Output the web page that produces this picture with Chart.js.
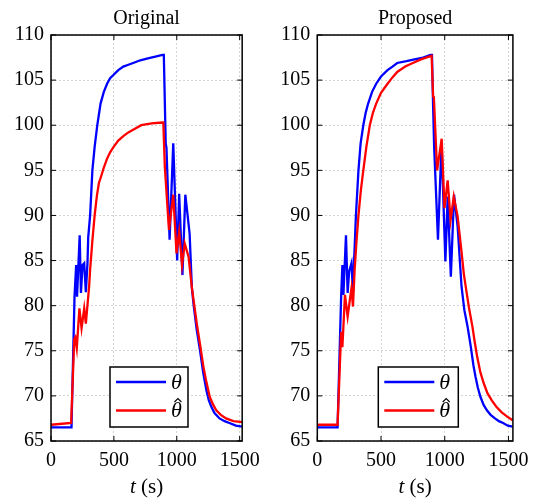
<!DOCTYPE html>
<html>
<head>
<meta charset="utf-8">
<script src="https://cdn.jsdelivr.net/npm/chart.js@4.4.0/dist/chart.umd.min.js"></script>
<style>
  body { margin: 0; background: #fff; }
  #wrap { position: relative; width: 537px; height: 500px; }
  .pane { position: absolute; top: 0; }
</style>
</head>
<body>
<div id="wrap">
  <div class="pane" style="left:0"><canvas id="left" width="268" height="500"></canvas></div>
  <div class="pane" style="left:268px"><canvas id="right" width="269" height="500"></canvas></div>
</div>
<script>
// Axes ticks
var xTicks = [0, 500, 1000, 1500];
var yTicks = [65, 70, 75, 80, 85, 90, 95, 100, 105, 110];

// Original: theta (measured)
var origThetaT = [0,163,187,200,207,228,238,251,264,277,290,296,311,329,347,368,394,420,446,470,
  498,535,575,615,653,710,770,830,886,897,912,918,943,972,1003,1019,1045,1068,1102,1120,
  1133,1159,1184,1211,1236,1255,1275,1300,1340,1380,1418,1470,1522];
var origTheta = [66.5,66.5,81,84.5,81,87.8,81.4,84.5,84.7,81.5,84.7,87.6,90,95,97.6,100,102.4,103.7,104.6,105.2,
  105.6,106.1,106.5,106.7,106.9,107.2,107.4,107.6,107.8,107.8,98,97.5,87.3,98,85,92.4,83.4,92.3,88,82,
  80.2,77.3,75.1,72.5,70.6,69.5,68.8,68.1,67.5,67.2,67.0,66.7,66.6];

// Original: theta hat (estimate)
var origHatT = [0,160,185,193,205,226,243,264,277,303,311,329,347,365,381,400,420,446,470,498,
  535,575,615,653,718,800,886,893,905,938,972,998,1019,1042,1063,1094,1120,1159,1184,1211,
  1236,1262,1290,1314,1350,1392,1450,1522];
var origHat = [66.8,67.0,76.3,76.5,75.3,79.7,77.5,79.7,78.0,82.1,84,87.2,90,92.2,93.6,94.4,95.3,96.3,97.0,97.6,
  98.3,98.8,99.2,99.5,100,100.2,100.3,100.3,95.4,88.4,92.3,85.8,88.2,84.5,86.9,85.4,82,78,75.8,73.3,
  71.5,69.9,69.0,68.4,67.9,67.5,67.2,67.1];

// Proposed: theta (measured)
var propThetaT = [0,159,187,197,205,225,238,250,268,280,288,303,323,340,361,380,399,430,462,500,
  551,590,627,700,763,830,889,900,909,917,947,975,1005,1023,1048,1073,1101,1132,1154,1179,
  1205,1225,1242,1260,1280,1305,1331,1360,1394,1425,1458,1495,1533];
var propTheta = [66.5,66.5,81,84.5,81.2,87.8,81.4,83.8,84.7,81.5,84.7,90,95,98,100,101.4,102.4,103.7,104.6,105.4,
  106.1,106.5,106.9,107.1,107.3,107.5,107.8,107.8,102,97.6,87.3,98,84.9,92.1,83.2,92.3,88.8,82.1,79.5,77.7,
  75.4,73.4,72.1,70.9,69.9,69.0,68.4,67.9,67.5,67.2,67.0,66.7,66.6];

// Proposed: theta hat (estimate)
var propHatT = [0,159,187,197,217,238,255,268,280,293,307,323,342,361,385,412,437,462,500,551,
  590,627,690,750,813,877,897,909,915,940,976,998,1023,1046,1071,1101,1130,1150,1168,1190,
  1217,1235,1255,1280,1306,1335,1369,1405,1445,1490,1533];
var propHat = [66.8,66.8,77.1,75.4,81.2,78.8,80.6,81.9,79.9,84,87,90,92.8,95,97.6,100,101.4,102.4,103.6,104.6,
  105.3,105.9,106.5,106.9,107.3,107.6,107.7,103.2,103.0,95.0,98.5,90.8,93.9,89.5,92.1,89.9,86.2,83.5,81.8,79.8,
  77.7,76.0,74.3,72.6,71.4,70.3,69.5,68.8,68.2,67.7,67.3];

var serif = "'Liberation Serif', 'Times New Roman', serif";

function toPoints(ts, vs) {
  return ts.map(function(t, i) { return { x: t, y: vs[i] }; });
}

// Box frame with inward ticks, x label and legend
var framePlugin = {
  id: 'frameBox',
  afterDraw: function(chart, args, opts) {
    var ctx = chart.ctx;
    var a = chart.chartArea;
    var xs = chart.scales.x, ys = chart.scales.y;
    ctx.save();
    ctx.strokeStyle = '#000';
    ctx.lineWidth = 1.5;
    ctx.strokeRect(a.left, a.top, a.right - a.left, a.bottom - a.top);
    ctx.lineWidth = 1;
    var tl = 5;
    ctx.beginPath();
    xTicks.forEach(function(v) {
      var px = xs.getPixelForValue(v);
      ctx.moveTo(px, a.bottom); ctx.lineTo(px, a.bottom - tl);
      ctx.moveTo(px, a.top); ctx.lineTo(px, a.top + tl);
    });
    yTicks.forEach(function(v) {
      var py = ys.getPixelForValue(v);
      ctx.moveTo(a.left, py); ctx.lineTo(a.left + tl, py);
      ctx.moveTo(a.right, py); ctx.lineTo(a.right - tl, py);
    });
    ctx.stroke();

    // x axis label: t (s)
    ctx.fillStyle = '#000';
    ctx.textBaseline = 'middle';
    var cx = (a.left + a.right) / 2;
    ctx.font = 'italic 21px ' + serif;
    var w1 = ctx.measureText('t').width;
    ctx.font = '21px ' + serif;
    var w2 = ctx.measureText(' (s)').width;
    var sx = cx - (w1 + w2) / 2;
    ctx.font = 'italic 21px ' + serif;
    ctx.textAlign = 'left';
    ctx.fillText('t', sx, 487);
    ctx.font = '21px ' + serif;
    ctx.fillText(' (s)', sx + w1, 487);

    // legend
    var bl = a.left + opts.legendLeft, bw = opts.legendWidth;
    var bh = 60, bt = a.bottom - 14 - bh;
    ctx.fillStyle = '#fff';
    ctx.fillRect(bl, bt, bw, bh);
    ctx.lineWidth = 1.5;
    ctx.strokeStyle = '#000';
    ctx.strokeRect(bl, bt, bw, bh);
    var rows = [chart.data.datasets[1], chart.data.datasets[0]];
    rows.forEach(function(ds, i) {
      var y = bt + 15 + i * 28.5;
      ctx.strokeStyle = ds.borderColor;
      ctx.lineWidth = 2.3;
      ctx.beginPath();
      ctx.moveTo(bl + 6, y); ctx.lineTo(bl + 56, y);
      ctx.stroke();
      ctx.fillStyle = '#000';
      ctx.font = 'italic 22px ' + serif;
      var tx = bl + 61;
      ctx.fillText('θ', tx, y + 1);
      if (ds.hat) {
        var w = ctx.measureText('θ').width;
        var hx = tx + w / 2 + 1.5, hy = y - 11;
        ctx.strokeStyle = '#000';
        ctx.lineWidth = 1.1;
        ctx.beginPath();
        ctx.moveTo(hx - 3.5, hy + 2.5);
        ctx.lineTo(hx, hy - 1);
        ctx.lineTo(hx + 3.5, hy + 2.5);
        ctx.stroke();
      }
    });
    ctx.restore();
  }
};

function makeChart(id, title, thT, th, hatT, hat, xMax, rightPad, legendLeft, legendWidth) {
  var canvas = document.getElementById(id);
  return new Chart(canvas, {
    type: 'line',
    data: {
      datasets: [
        {
          label: 'θ\u0302',
          hat: true,
          data: toPoints(hatT, hat),
          borderColor: '#ff0000',
          borderWidth: 2.3,
          pointRadius: 0,
          tension: 0,
          order: 0
        },
        {
          label: 'θ',
          hat: false,
          data: toPoints(thT, th),
          borderColor: '#0000ff',
          borderWidth: 2.3,
          pointRadius: 0,
          tension: 0,
          order: 1
        }
      ]
    },
    options: {
      responsive: false,
      animation: false,
      layout: { padding: { left: 0, right: rightPad, top: 0, bottom: 0 } },
      plugins: {
        legend: { display: false },
        tooltip: { enabled: false },
        title: {
          display: true,
          text: title,
          fullSize: false,
          color: '#000',
          font: { family: serif, size: 20, weight: 'normal', lineHeight: 1.2 },
          padding: { top: 7, bottom: 4 }
        },
        frameBox: { legendLeft: legendLeft, legendWidth: legendWidth }
      },
      scales: {
        x: {
          type: 'linear',
          min: 0,
          max: xMax,
          afterBuildTicks: function(s) { s.ticks = xTicks.map(function(v) { return { value: v }; }); },
          afterFit: function(s) { s.height = 59; },
          border: { display: false, dash: [2, 2] },
          grid: { color: '#d4d4d4', lineWidth: 1, drawTicks: false },
          ticks: {
            color: '#000', padding: 8, maxRotation: 0,
            font: { family: serif, size: 20 },
            callback: function(v) { return String(v); }
          }
        },
        y: {
          min: 65,
          max: 110,
          afterBuildTicks: function(s) { s.ticks = yTicks.map(function(v) { return { value: v }; }); },
          afterFit: function(s) { s.width = id === 'left' ? 51 : 49.3; },
          border: { display: false, dash: [2, 2] },
          grid: { color: '#d4d4d4', lineWidth: 1, drawTicks: false },
          ticks: {
            color: '#000', padding: 7,
            font: { family: serif, size: 20 },
            callback: function(v) { return String(v); }
          }
        }
      }
    },
    plugins: [framePlugin]
  });
}

document.addEventListener('DOMContentLoaded', function() {
  makeChart('left', 'Original', origThetaT, origTheta, origHatT, origHat, 1520, 21, 59, 78);
  makeChart('right', 'Proposed', propThetaT, propTheta, propHatT, propHat, 1535, 17.3, 61, 80);
});
</script>
</body>
</html>
